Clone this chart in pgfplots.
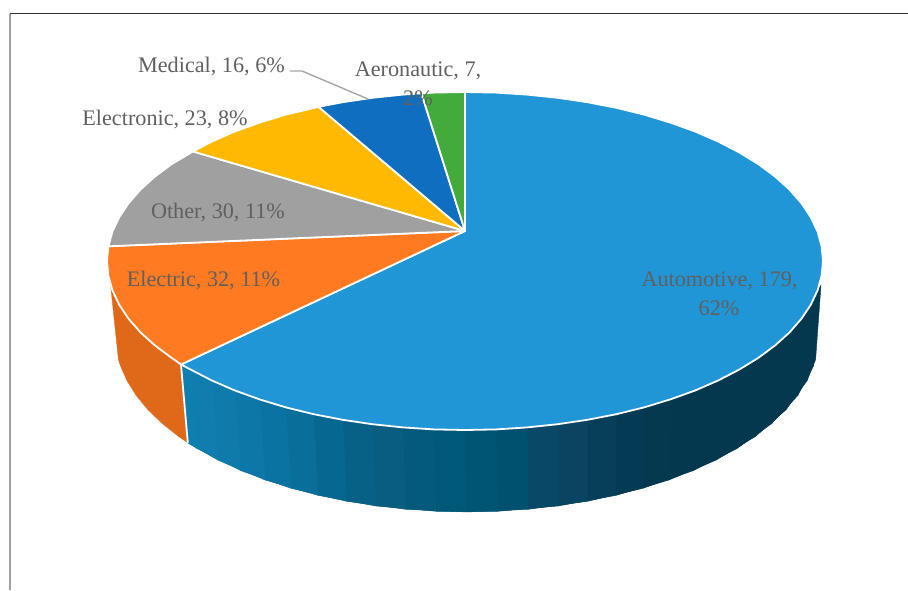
\documentclass[border=0pt]{standalone}
\usepackage{pgfplots}
\pgfplotsset{compat=1.18}
\usepackage{fontspec}
\setmainfont{Liberation Serif}

\definecolor{autoc}{RGB}{33,150,214}
\definecolor{electricc}{RGB}{255,122,32}
\definecolor{otherc}{RGB}{160,160,160}
\definecolor{electronicc}{RGB}{255,185,0}
\definecolor{medicalc}{RGB}{16,110,192}
\definecolor{aeroc}{RGB}{67,171,60}
\definecolor{electricside}{RGB}{224,105,25}
\definecolor{labelc}{RGB}{96,96,96}

\pgfplotsset{
  colormap={autoside}{
    rgb255(180pt)=(16,128,178) rgb255(250pt)=(12,118,165) rgb255(300pt)=(8,108,150)
    rgb255(340pt)=(4,98,135) rgb255(360pt)=(16,94,133) rgb255(380pt)=(6,92,125)
    rgb255(440pt)=(0,88,120) rgb255(500pt)=(0,80,112) rgb255(530pt)=(10,72,102)
    rgb255(570pt)=(8,66,94) rgb255(610pt)=(5,58,85) rgb255(660pt)=(3,56,78)
    rgb255(820pt)=(3,56,78)
  }
}
\tikzset{lbl/.style={anchor=base, font=\fontsize{22.2}{24}\selectfont, text=labelc, inner sep=0pt}}

\begin{document}
\begin{tikzpicture}
\begin{axis}[
    name=pie,
    scale only axis,
    width=908pt,
    height=590pt,
    xmin=0, xmax=908,
    ymin=0, ymax=590,
    y dir=reverse,
    hide axis,
    colormap name=autoside,
    point meta min=180,
    point meta max=820,
    cycle list={},
    every axis plot/.append style={line join=round},
]
% frame
\addplot[draw={rgb,255:red,160;green,160;blue,160}, line width=1.6pt] coordinates {(10,13.5) (10,590)};
\addplot[draw={rgb,255:red,50;green,50;blue,50}, line width=1.1pt] coordinates {(10,13.5) (908,13.5)};

% side of Automotive: each strip runs over the next step and is overdrawn by it, so no seams
\addplot[patch, patch type=rectangle, shader=flat mean, point meta=x] coordinates {
(821,285) (810.8,304.7) (807,380.8) (815.6,359.6)
(817.6,290.3) (801.4,318.8) (797.8,395.5) (813.6,365.7)
(810.8,304.7) (789.5,332.4) (786,409.8) (807,380.8)
(801.4,318.8) (775,345.5) (771.8,423.5) (797.8,395.5)
(789.5,332.4) (758.3,357.9) (755.4,436.5) (786,409.8)
(775,345.5) (739.2,369.6) (736.6,448.8) (771.8,423.5)
(758.3,357.9) (718.1,380.5) (715.9,460.2) (755.4,436.5)
(739.2,369.6) (695.1,390.5) (693.3,470.6) (736.6,448.8)
(718.1,380.5) (670.3,399.4) (668.9,480) (715.9,460.2)
(695.1,390.5) (644,407.4) (643,488.3) (693.3,470.6)
(670.3,399.4) (616.3,414.2) (615.8,495.4) (668.9,480)
(644,407.4) (587.4,419.8) (587.4,501.3) (643,488.3)
(616.3,414.2) (557.7,424.2) (558.1,506) (615.8,495.4)
(587.4,419.8) (527.1,427.4) (528.1,509.3) (587.4,501.3)
(557.7,424.2) (496.2,429.4) (497.7,511.3) (558.1,506)
(527.1,427.4) (465,430) (467,512) (528.1,509.3)
(496.2,429.4) (433.8,429.4) (436.3,511.3) (497.7,511.3)
(465,430) (402.9,427.4) (405.9,509.3) (467,512)
(433.8,429.4) (372.3,424.2) (375.9,506) (436.3,511.3)
(402.9,427.4) (342.6,419.8) (346.6,501.3) (405.9,509.3)
(372.3,424.2) (313.7,414.2) (318.2,495.4) (375.9,506)
(342.6,419.8) (286,407.4) (291,488.3) (346.6,501.3)
(313.7,414.2) (259.7,399.4) (265.1,480) (318.2,495.4)
(286,407.4) (234.9,390.5) (240.7,470.6) (291,488.3)
(259.7,399.4) (211.9,380.5) (218.1,460.2) (265.1,480)
(234.9,390.5) (190.8,369.6) (197.4,448.8) (240.7,470.6)
(211.9,380.5) (181,364.5) (187.8,442.8) (218.1,460.2)
(190.8,369.6) (181,364.5) (187.8,442.8) (197.4,448.8)
};

% side of Electric
\addplot[fill=electricside, draw=electricside, line width=0.3pt] coordinates {
(181,364.5) (171.7,357.9) (155,345.5) (140.5,332.4) (128.6,318.8) (119.2,304.7)
(112.4,290.3) (110.5,284.5) (118.4,359.6) (120.4,365.7) (127,380.8) (136.2,395.5)
(148,409.8) (162.2,423.5) (178.6,436.5) (187.8,442.8)
} --cycle;

% top of the pie
\addplot[fill=autoc, draw=white, line width=1.8pt] coordinates {
(465,231) (465,92) (496.2,92.6) (527.1,94.6) (557.7,97.8) (587.4,102.2) (616.3,107.8)
(644,114.6) (670.3,122.6) (695.1,131.5) (718.1,141.5) (739.2,152.4) (758.3,164.1)
(775,176.5) (789.5,189.6) (801.4,203.2) (810.8,217.3) (817.6,231.7) (821.6,246.3)
(823,261) (821.6,275.7) (817.6,290.3) (810.8,304.7) (801.4,318.8) (789.5,332.4)
(775,345.5) (758.3,357.9) (739.2,369.6) (718.1,380.5) (695.1,390.5) (670.3,399.4)
(644,407.4) (616.3,414.2) (587.4,419.8) (557.7,424.2) (527.1,427.4) (496.2,429.4)
(465,430) (433.8,429.4) (402.9,427.4) (372.3,424.2) (342.6,419.8) (313.7,414.2)
(286,407.4) (259.7,399.4) (234.9,390.5) (211.9,380.5) (190.8,369.6) (181,364.5)
} --cycle;
\addplot[fill=electricc, draw=white, line width=1.8pt] coordinates {
(465,231) (181,364.5) (171.7,357.9) (155,345.5) (140.5,332.4) (128.6,318.8) (119.2,304.7)
(112.4,290.3) (108.4,275.7) (107,261) (108.4,246.3)
} --cycle;
\addplot[fill=otherc, draw=white, line width=1.8pt] coordinates {
(465,231) (108.4,246.3) (112.4,231.7) (119.2,217.3) (128.6,203.2) (140.5,189.6)
(155,176.5) (171.7,164.1) (193,151.5)
} --cycle;
\addplot[fill=electronicc, draw=white, line width=1.8pt] coordinates {
(465,231) (193,151.5) (211.9,141.5) (234.9,131.5) (259.7,122.6) (286,114.6) (318.5,106.8)
} --cycle;
\addplot[fill=medicalc, draw=white, line width=1.8pt] coordinates {
(465,231) (318.5,106.8) (342.6,102.2) (372.3,97.8) (402.9,94.6) (421.4,93.3)
} --cycle;
\addplot[fill=aeroc, draw=white, line width=1.8pt] coordinates {
(465,231) (421.4,93.3) (433.8,92.6) (465,92)
} --cycle;

% split between the two visible sides
\addplot[draw=white, line width=1.8pt] coordinates {(181,364.5) (187.8,442.8)};

% leader of the Medical label
\addplot[draw={rgb,255:red,166;green,166;blue,166}, line width=1.4pt] coordinates {(290,71) (302,71) (368,99)};

\node[lbl] at (axis cs:211.5,72) {Medical, 16, 6\%};
\node[lbl] at (axis cs:418,76) {Aeronautic, 7,};
\node[lbl] at (axis cs:418,105.7) {2\%};
\node[lbl] at (axis cs:165,125) {Electronic, 23, 8\%};
\node[lbl] at (axis cs:218,218) {Other, 30, 11\%};
\node[lbl] at (axis cs:203.5,286) {Electric, 32, 11\%};
\node[lbl] at (axis cs:719.5,286) {Automotive, 179,};
\node[lbl] at (axis cs:719,315) {62\%};
\end{axis}
\path[use as bounding box] (pie.south west) rectangle (pie.north east);
\end{tikzpicture}
\end{document}
